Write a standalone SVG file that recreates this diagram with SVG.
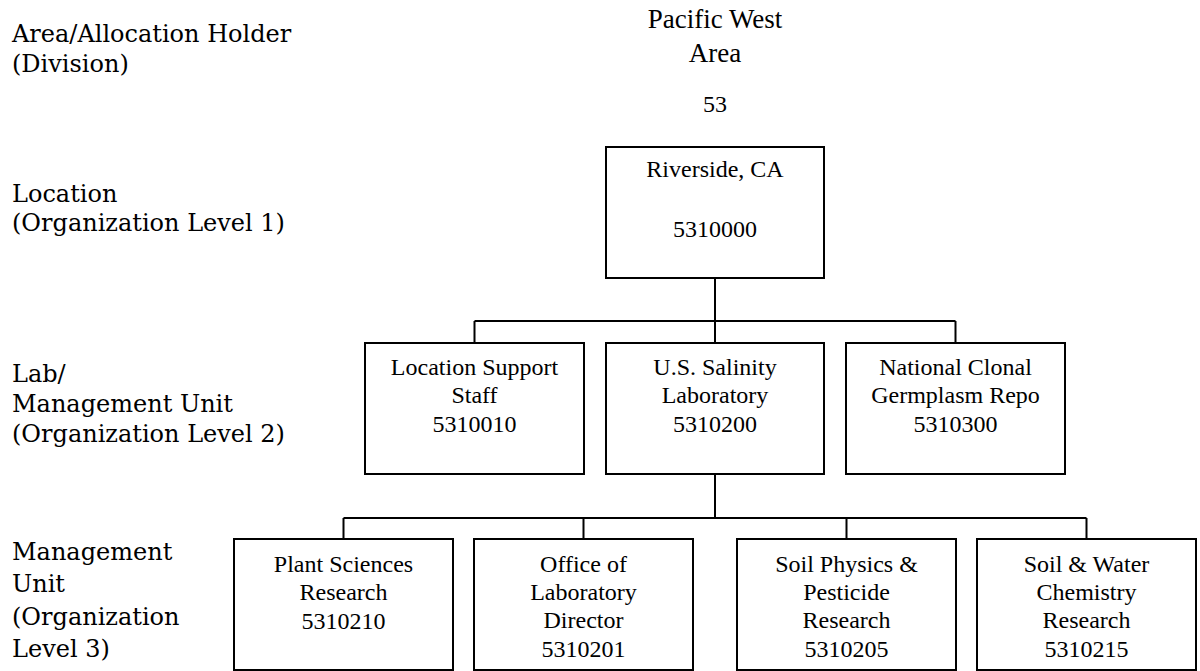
<svg xmlns="http://www.w3.org/2000/svg" width="1200" height="671" viewBox="0 0 1200 671">
<style>
.box{fill:#fff;stroke:#000;stroke-width:2}
.con{fill:none;stroke:#000;stroke-width:2}
.t{font-family:"Liberation Serif","Times New Roman",serif;font-size:24px;fill:#000;text-anchor:middle}
.lbl{font-family:"DejaVu Serif",serif;font-size:24px;fill:#000}
</style>
<rect width="1200" height="671" fill="#fff"/>
<g id="labels">
<text class="lbl" x="12" y="42">Area/Allocation Holder</text>
<text class="lbl" x="12" y="72">(Division)</text>
<text class="lbl" x="12" y="202">Location</text>
<text class="lbl" x="12" y="231">(Organization Level 1)</text>
<text class="lbl" x="12" y="382">Lab/</text>
<text class="lbl" x="12" y="412">Management Unit</text>
<text class="lbl" x="12" y="442">(Organization Level 2)</text>
<text class="lbl" x="12" y="560">Management</text>
<text class="lbl" x="12" y="592">Unit</text>
<text class="lbl" x="12" y="625">(Organization</text>
<text class="lbl" x="12" y="657">Level 3)</text>
</g>
<g id="connectors">
<path class="con" d="M715 278V321M474.5 321H955.5M474.5 321V343M715 321V343M955.5 321V343"/>
<path class="con" d="M715 474V518M343.5 518H1086.5M343.5 518V539M583.5 518V539M846.5 518V539M1086.5 518V539"/>
</g>
<g id="area">
<text class="t" x="715" y="28" style="font-size:27px">Pacific West</text>
<text class="t" x="715" y="62" style="font-size:27px">Area</text>
<text class="t" x="715" y="112">53</text>
</g>
<g id="riverside">
<rect class="box" x="606" y="147" width="218" height="131"/>
<text class="t" x="715" y="177">Riverside, CA</text>
<text class="t" x="715" y="237">5310000</text>
</g>
<g id="lss">
<rect class="box" x="365" y="343" width="219" height="131"/>
<text class="t" x="474.5" y="375">Location Support</text>
<text class="t" x="474.5" y="403">Staff</text>
<text class="t" x="474.5" y="432">5310010</text>
</g>
<g id="ussl">
<rect class="box" x="606" y="343" width="218" height="131"/>
<text class="t" x="715" y="375">U.S. Salinity</text>
<text class="t" x="715" y="403">Laboratory</text>
<text class="t" x="715" y="432">5310200</text>
</g>
<g id="ncgr">
<rect class="box" x="846" y="343" width="219" height="131"/>
<text class="t" x="955.5" y="375">National Clonal</text>
<text class="t" x="955.5" y="403">Germplasm Repo</text>
<text class="t" x="955.5" y="432">5310300</text>
</g>
<g id="psr">
<rect class="box" x="234" y="539" width="219" height="131"/>
<text class="t" x="343.5" y="572">Plant Sciences</text>
<text class="t" x="343.5" y="600">Research</text>
<text class="t" x="343.5" y="629">5310210</text>
</g>
<g id="old">
<rect class="box" x="474" y="539" width="219" height="131"/>
<text class="t" x="583.5" y="572">Office of</text>
<text class="t" x="583.5" y="600">Laboratory</text>
<text class="t" x="583.5" y="628">Director</text>
<text class="t" x="583.5" y="657">5310201</text>
</g>
<g id="sppr">
<rect class="box" x="737" y="539" width="219" height="131"/>
<text class="t" x="846.5" y="572">Soil Physics &amp;</text>
<text class="t" x="846.5" y="600">Pesticide</text>
<text class="t" x="846.5" y="628">Research</text>
<text class="t" x="846.5" y="657">5310205</text>
</g>
<g id="swcr">
<rect class="box" x="977" y="539" width="219" height="131"/>
<text class="t" x="1086.5" y="572">Soil &amp; Water</text>
<text class="t" x="1086.5" y="600">Chemistry</text>
<text class="t" x="1086.5" y="628">Research</text>
<text class="t" x="1086.5" y="657">5310215</text>
</g>
</svg>
